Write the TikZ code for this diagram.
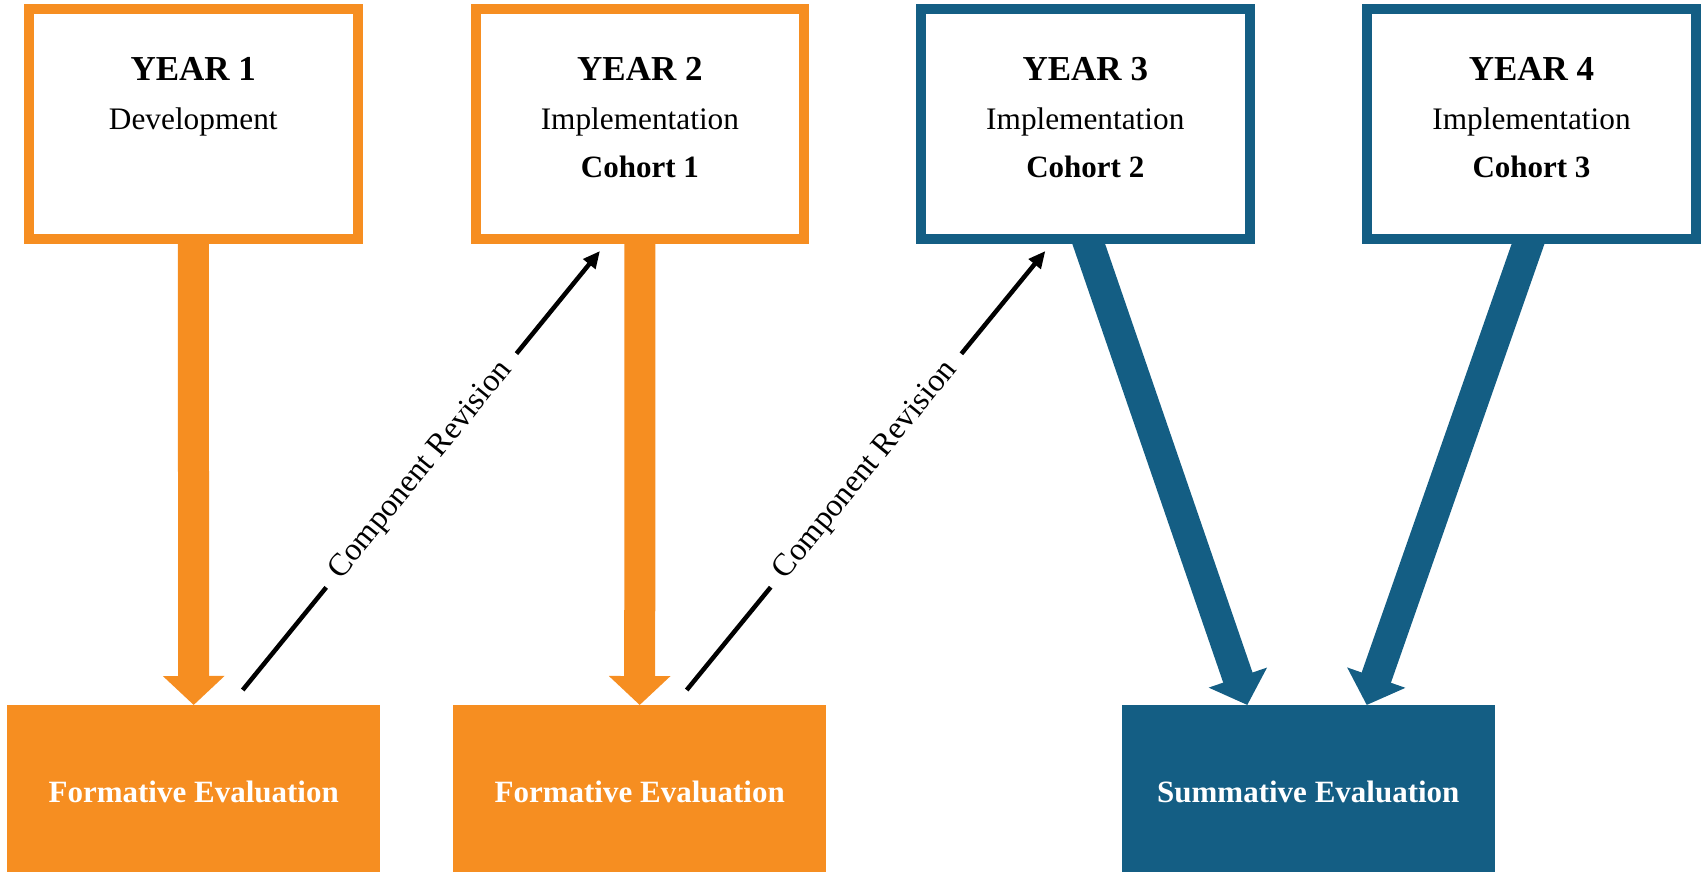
\documentclass[tikz,border=0pt]{standalone}
\usepackage{fontspec}
\setmainfont{Liberation Serif}
\usetikzlibrary{arrows.meta,backgrounds}
\definecolor{orng}{RGB}{246,142,33}
\definecolor{blu}{RGB}{20,94,132}
\begin{document}
\begin{tikzpicture}[x=1pt,y=-1pt,
  yearbox/.style={draw=#1, line width=10pt, fill=white, minimum width=328.5pt, minimum height=229.7pt, inner sep=0pt},
  evalbox/.style={fill=#1, minimum width=372.7pt, minimum height=173pt, inner sep=0pt, outer sep=0pt, text=white, font=\fontsize{31}{37}\selectfont\bfseries},
  yeartitle/.style={font=\fontsize{35}{42}\selectfont\bfseries, anchor=base, inner sep=0pt},
  yearsub/.style={font=\fontsize{31.3}{37}\selectfont, anchor=base, inner sep=0pt},
  yearbold/.style={font=\fontsize{31}{37}\selectfont\bfseries, anchor=base, inner sep=0pt},
  fat/.style={draw=#1, line width=31pt, -{Triangle[width=60pt,length=29pt]}},
  revarrow/.style={draw=black, line width=4.5pt, -{Triangle[width=15pt,length=17pt]}},
  revlabel/.style={sloped, midway, fill=white, inner xsep=15pt, inner ysep=2pt, font=\fontsize{32}{38}\selectfont}
]
\useasboundingbox (0,0) rectangle (1707,872);

% year boxes
\node[yearbox=orng] (y1) at (193.3,124.15) {};
\node[yearbox=orng] (y2) at (639.9,124.15) {};
\node[yearbox=blu]  (y3) at (1085.3,124.15) {};
\node[yearbox=blu]  (y4) at (1531.5,124.15) {};

\node[yeartitle] (y1a) at (193.3,81) {YEAR 1};
\node[yearsub]   (y1b) at (193.3,129) {Development};

\node[yeartitle] (y2a) at (639.9,81) {YEAR 2};
\node[yearsub]   (y2b) at (639.9,129) {Implementation};
\node[yearbold]  (y2c) at (639.9,177) {Cohort 1};

\node[yeartitle] (y3a) at (1085.3,81) {YEAR 3};
\node[yearsub]   (y3b) at (1085.3,129) {Implementation};
\node[yearbold]  (y3c) at (1085.3,177) {Cohort 2};

\node[yeartitle] (y4a) at (1531.5,81) {YEAR 4};
\node[yearsub]   (y4b) at (1531.5,129) {Implementation};
\node[yearbold]  (y4c) at (1531.5,177) {Cohort 3};

% evaluation boxes
\node[evalbox=orng] (f1)  at (193.7,791.5) {Formative Evaluation};
\node[evalbox=orng] (f2)  at (639.7,791.5) {Formative Evaluation};
\node[evalbox=blu]  (sum) at (1308.3,791.5) {Summative Evaluation};

% component revision arrows
\draw[revarrow] ([xshift=49pt,yshift=15pt]f1.north) -- node[revlabel] (cr1) {Component Revision} ([xshift=129.3pt,yshift=-7pt]y2.south west);
\draw[revarrow] ([xshift=47pt,yshift=15pt]f2.north) -- node[revlabel] (cr2) {Component Revision} ([xshift=129.3pt,yshift=-7pt]y3.south west);

% block arrows
\begin{pgfonlayer}{background}
\draw[fat=orng] (y1.south) -- (f1.north);
\draw[fat=orng] (y2.south) -- (f2.north);
\draw[fat=blu] ([yshift=10pt]y3.south) -- ([xshift=-61pt]sum.north);
\draw[fat=blu] ([yshift=10pt]y4.south) -- ([xshift=58.4pt]sum.north);
\end{pgfonlayer}
\end{tikzpicture}
\end{document}
